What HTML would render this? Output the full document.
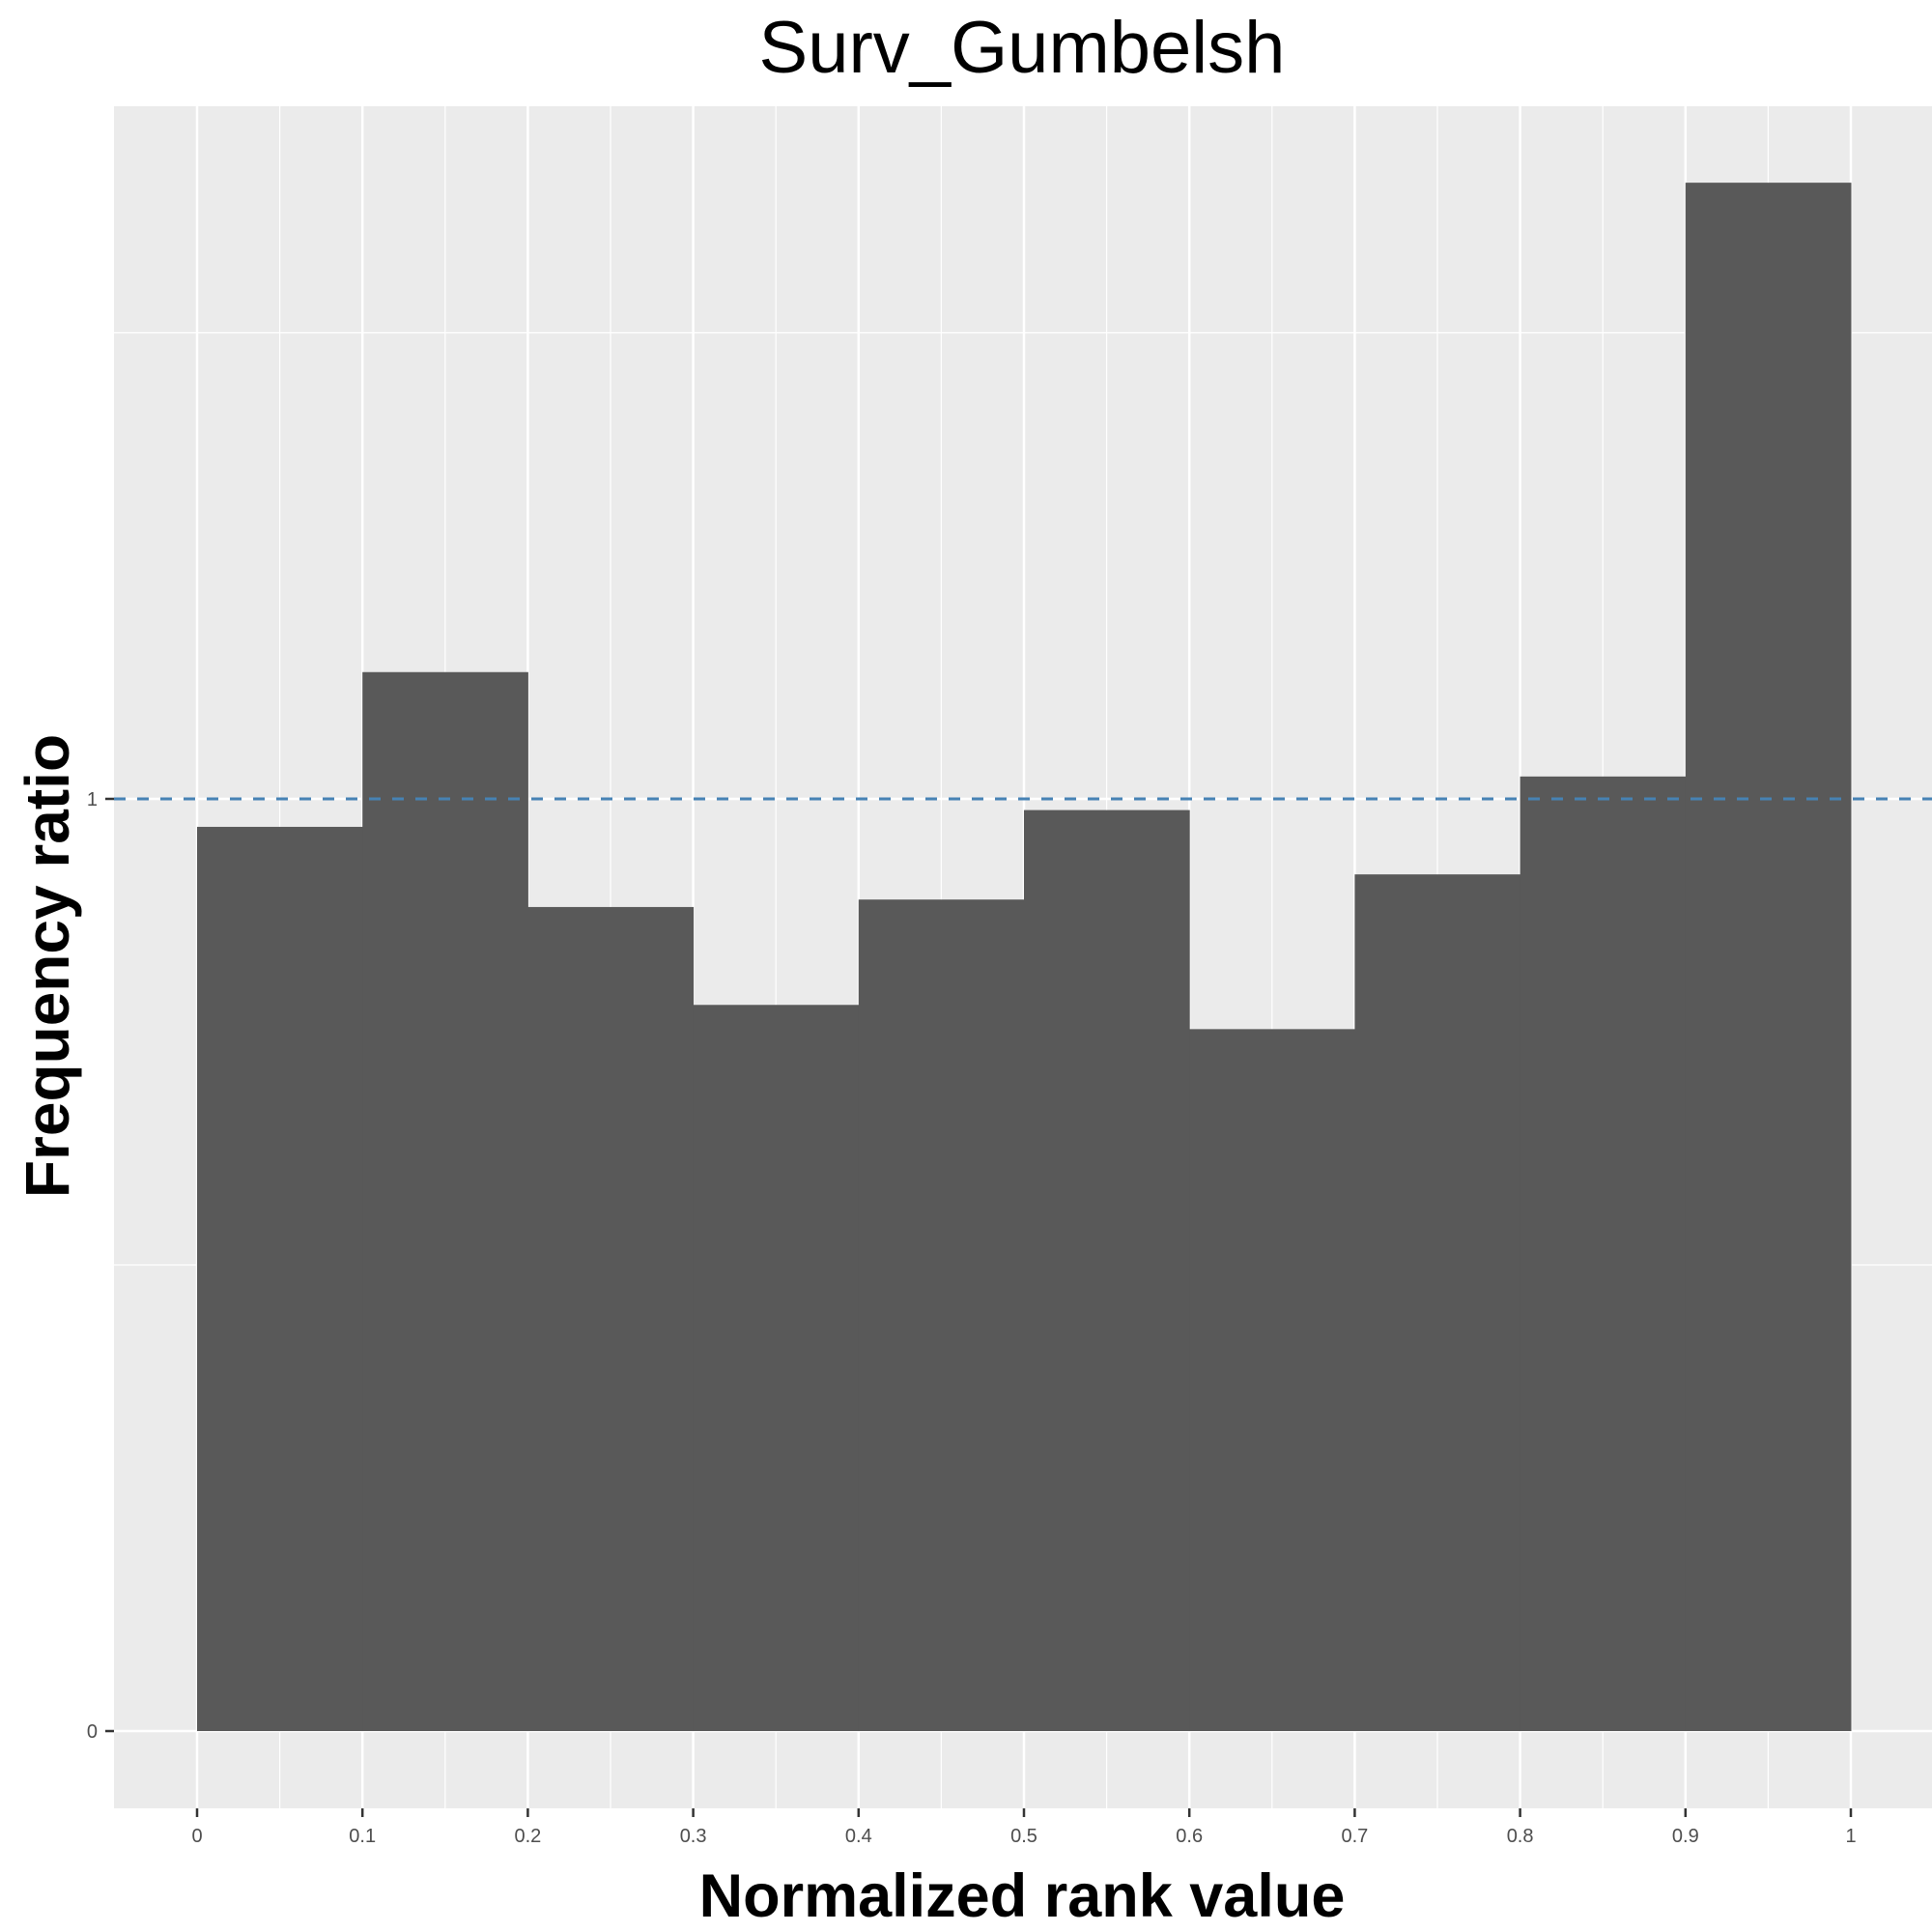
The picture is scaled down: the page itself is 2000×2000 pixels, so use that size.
<!DOCTYPE html>
<html><head><meta charset="utf-8"><style>
html,body{margin:0;padding:0;background:#fff;}
svg{display:block;font-family:"Liberation Sans",sans-serif;}
</style></head><body>
<svg id="chart" width="2000" height="2000" viewBox="0 0 2000 2000">
<text x="1058" y="75" text-anchor="middle" font-size="76" fill="#000">Surv_Gumbelsh</text>
<rect x="118" y="110" width="1882" height="1762" fill="#ebebeb"/>
<g id="grid"></g><g id="bars"></g><g id="axes"></g>
<text x="1058" y="1984" text-anchor="middle" font-size="63" font-weight="bold" fill="#000">Normalized rank value</text>
<text transform="translate(71,1000) rotate(-90)" text-anchor="middle" font-size="64" font-weight="bold" fill="#000">Frequency ratio</text>
</svg>
<script>
const binStarts=[0,0.1,0.2,0.3,0.4,0.5,0.6,0.7,0.8,0.9];
const ratios=[0.970,1.136,0.884,0.779,0.892,0.988,0.753,0.919,1.024,1.661];
const xTicks=[0,0.1,0.2,0.3,0.4,0.5,0.6,0.7,0.8,0.9,1];
const xTickLabels=["0","0.1","0.2","0.3","0.4","0.5","0.6","0.7","0.8","0.9","1"];
const yTicks=[0,1];
const yTickLabels=["0","1"];
const refValue=1;
const NS="http://www.w3.org/2000/svg";
function X(v){return 204+v*1712;}
function Y(v){return 1792-v*965;}
function mk(p,t,a){const e=document.createElementNS(NS,t);for(const k in a)e.setAttribute(k,a[k]);p.appendChild(e);return e;}
const grid=document.getElementById('grid'),bars=document.getElementById('bars'),axes=document.getElementById('axes');
[0.5,1.5].forEach(v=>{const l=mk(grid,'line',{x1:118,x2:2000,y1:Y(v),y2:Y(v),stroke:'#fff','stroke-width':1.2});

});
for(let i=0;i<xTicks.length-1;i++){const v=(xTicks[i]+xTicks[i+1])/2;const l=mk(grid,'line',{x1:X(v),x2:X(v),y1:110,y2:1872,stroke:'#fff','stroke-width':1.2});

}
yTicks.forEach(v=>{const l=mk(grid,'line',{x1:118,x2:2000,y1:Y(v),y2:Y(v),stroke:'#fff','stroke-width':2.5});

});
xTicks.forEach(v=>{const l=mk(grid,'line',{x1:X(v),x2:X(v),y1:110,y2:1872,stroke:'#fff','stroke-width':2.5});

});
binStarts.forEach((s,i)=>{const r=mk(bars,'rect',{x:X(s),y:Y(ratios[i]),width:X(s+0.1)-X(s)+0.5,height:Y(0)-Y(ratios[i]),fill:'#595959'});

});
const ref=mk(bars,'line',{x1:118,x2:2000,y1:Y(refValue),y2:Y(refValue),stroke:'#4682b4','stroke-width':3,'stroke-dasharray':'12,12'});


xTicks.forEach((v,i)=>{mk(axes,'line',{x1:X(v),x2:X(v),y1:1872,y2:1881,stroke:'#333','stroke-width':2.5});
const t=mk(axes,'text',{x:X(v),y:1907,'text-anchor':'middle','font-size':20,fill:'#4d4d4d'});t.textContent=xTickLabels[i];

});
yTicks.forEach((v,i)=>{mk(axes,'line',{x1:109,x2:118,y1:Y(v),y2:Y(v),stroke:'#333','stroke-width':2.5});
const t=mk(axes,'text',{x:101,y:Y(v)+7,'text-anchor':'end','font-size':20,fill:'#4d4d4d'});t.textContent=yTickLabels[i];

});
</script>
</body></html>
